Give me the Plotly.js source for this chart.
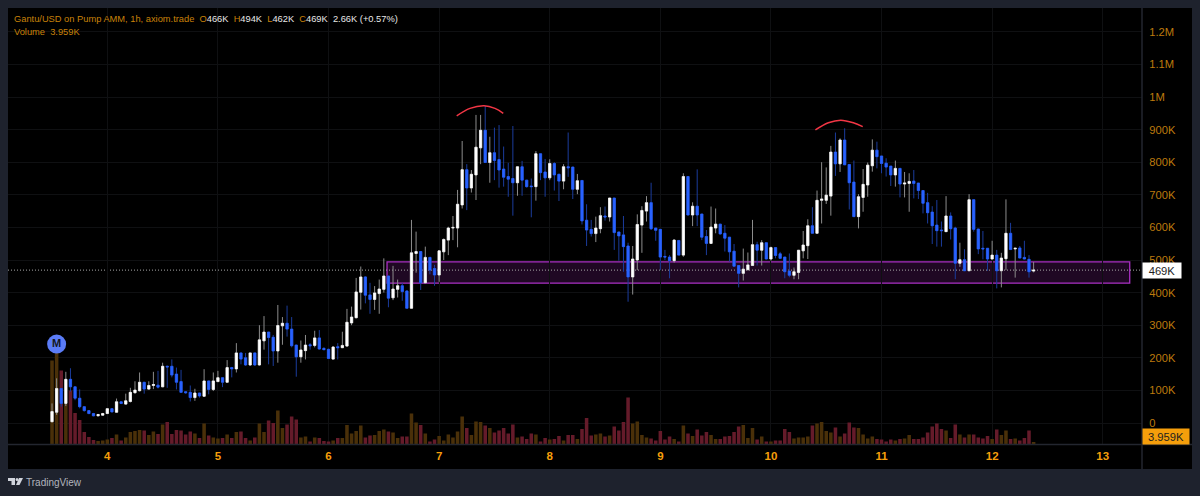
<!DOCTYPE html>
<html>
<head>
<meta charset="utf-8">
<script src="https://cdn.plot.ly/plotly-3.0.1.min.js"></script>
<style>html,body{margin:0;padding:0;background:#1e222d;overflow:hidden}#c{width:1200px;height:496px}</style>
</head>
<body>
<div id="c"></div>
<script>
const firstDay = 3.5, hoursPerDay = 24;
const open = [4,33,106,60,134,111,76,50,38,29,
22,24,29,44,33,65,58,66,93,99,
125,104,115,116,111,174,174,150,127,96,
94,78,92,82,129,103,127,139,125,170,
166,215,200,178,215,178,252,279,263,221,
298,306,288,239,203,222,240,238,261,229,
226,196,234,231,236,307,323,401,448,393,
379,397,410,451,384,410,421,405,352,520,
526,430,508,474,454,525,561,598,598,669,
777,721,761,844,898,799,829,808,779,756,
750,737,786,745,727,725,826,770,752,796,
763,742,786,785,717,744,622,594,581,596,
635,632,690,586,577,543,448,500,607,650,
676,598,594,511,509,498,560,515,756,638,
665,641,572,551,598,610,582,570,527,483,
459,470,483,547,530,553,503,538,519,509,
466,453,462,528,544,605,582,683,683,696,
831,795,868,793,739,633,692,730,789,837,
819,797,788,761,781,733,735,742,736,713,
676,647,607,592,587,635,598,490,501,467,
685,595,536,536,503,515,467,504,582,534,
537,508,502,466];
const close = [35,106,60,134,111,76,50,38,29,22,
26,29,44,34,65,60,68,94,101,125,
104,115,118,110,174,172,147,125,94,93,
78,92,83,129,103,129,139,125,170,166,
215,196,178,215,178,255,279,262,221,299,
306,288,237,203,224,239,237,261,227,225,
198,233,231,238,309,325,402,448,392,379,
399,411,451,383,411,421,403,352,522,526,
430,508,469,454,528,563,598,600,671,777,
721,763,846,898,799,829,805,776,754,748,
737,786,745,725,725,826,768,752,796,761,
742,786,783,717,743,620,592,581,598,636,
632,690,584,574,541,448,503,609,652,676,
596,591,509,509,498,561,515,756,638,665,
638,570,551,601,610,580,567,525,481,459,
472,485,547,530,553,503,538,514,505,464,
453,464,530,546,605,582,683,687,699,831,
795,868,792,737,633,694,732,791,837,817,
796,785,761,781,733,736,741,735,713,674,
645,605,590,590,635,596,490,501,467,685,
594,534,534,503,515,467,506,582,532,536,
506,503,464,469];
const high = [60,137,106,157,168,111,103,52,40,31,
28,31,46,46,75,66,90,108,128,155,
125,128,157,160,185,176,195,170,163,97,
115,105,92,165,129,155,160,139,193,172,
245,215,215,215,215,300,328,279,270,362,
325,360,325,240,253,270,245,283,285,232,
228,236,245,280,350,357,445,480,450,430,
420,440,505,451,482,440,430,407,623,587,
526,541,508,485,530,566,602,635,715,865,
794,776,945,945,973,878,906,914,848,798,
911,786,804,745,750,834,826,810,809,800,
763,794,891,786,764,745,671,623,633,662,
664,690,690,586,635,553,543,640,665,696,
737,598,594,531,515,564,560,766,756,677,
778,641,592,664,658,610,607,570,549,483,
535,523,623,556,561,553,541,538,525,509,
520,477,530,589,625,662,713,800,784,850,
891,873,904,793,805,702,779,799,870,863,
819,812,788,805,781,770,766,776,736,713,
706,665,684,618,696,646,602,553,533,702,
685,595,589,536,559,531,522,686,614,536,
543,559,515,494];
const low = [2,25,50,52,96,70,45,35,27,21,
21,23,28,33,32,58,56,63,90,97,
90,102,104,106,110,108,140,103,92,90,
66,68,78,80,88,98,126,110,124,140,
155,180,175,175,175,176,225,180,175,185,
240,265,232,142,185,195,225,232,225,223,
198,195,195,230,234,300,321,348,367,335,
347,335,400,355,377,385,375,352,352,461,
408,430,456,421,433,500,515,561,539,658,
653,707,684,794,799,737,745,722,725,694,
636,697,697,722,631,682,745,694,745,713,
681,717,755,687,702,609,543,572,555,582,
621,618,531,498,464,372,394,469,522,618,
592,559,469,500,444,492,515,510,638,604,
604,561,515,551,582,578,526,495,480,416,
437,470,483,483,483,503,498,505,505,444,
447,441,441,505,503,582,580,612,672,636,
758,770,792,655,633,597,648,694,771,781,
766,756,727,725,692,692,648,689,687,643,
612,549,541,541,587,563,441,479,467,467,
587,518,502,467,502,413,416,469,532,446,
506,503,446,462];
const volume = [167,183,147,80,107,62,48,24,14,8,
6,7,9,12,19,7,13,24,26,28,
27,18,25,20,39,44,20,28,27,19,
25,21,12,41,17,13,11,12,19,12,
24,25,12,7,13,41,24,47,42,67,
32,39,55,49,13,15,5,13,12,6,
5,7,12,12,38,21,26,37,13,17,
18,26,29,25,23,12,15,15,61,43,
38,21,5,9,16,7,19,13,25,55,
32,18,45,44,37,32,23,27,32,21,
39,13,15,10,21,19,5,12,9,10,
16,7,18,18,10,30,52,17,19,21,
15,17,35,27,44,93,41,45,18,13,
11,7,26,9,15,10,5,37,21,16,
29,17,24,18,10,10,15,16,24,35,
38,12,32,9,15,5,5,7,7,30,
24,11,13,13,15,37,41,44,26,23,
33,15,21,43,33,32,19,11,15,10,
9,5,9,7,10,11,18,10,10,13,
23,35,41,30,27,12,39,19,13,19,
19,13,11,16,10,29,18,27,10,11,
7,12,27,4];

const dayTicks = [4,5,6,7,8,9,10,11,12,13];
const priceTicks = [0,100,200,300,400,500,600,700,800,900,1000,1100,1200];
const priceLabels = ['0','100K','200K','300K','400K','500K','600K','700K','800K','900K','1M','1.1M','1.2M'];
const arc1Days = [7.159,7.279,7.406,7.505,7.58];
const arc1Price = [942,965,973,965,950];
const arc2Days = [10.402,10.519,10.631,10.745,10.83];
const arc2Price = [899,921,929,921,909];
const zoneDays = [6.529,13.244];
const zonePrice = [429,494];
const lastPrice = 469;
const markerDay = [3.5417];
const markerPrice = [242];

const W = 1200, H = 496, L = 8, R = 1142, T = 8, B = 444;
const px = v => (v - L) / (R - L);
const py = v => (B - v) / (B - T);
const days = open.map((_, i) => firstDay + i / hoursPerDay);
const bodyHi = open.map((o, i) => Math.max(o, close[i]));
const bodyLo = open.map((o, i) => Math.min(o, close[i]));
const volColors = open.map((o, i) => close[i] >= o ? '#4a3009' : '#651b2a');
const xMin = 3.102, xMax = 13.355;
const priceMin = -64.4, priceMax = 1273;
const FF = '"Liberation Sans", Arial, sans-serif';

const data = [
  {type:'bar', x:days, y:volume, yaxis:'y', xaxis:'x', width:0.032, marker:{color:volColors, line:{width:0}}, hoverinfo:'skip', showlegend:false},
  {type:'candlestick', x:days, open:open, high:high, low:low, close:close, yaxis:'y2', xaxis:'x', whiskerwidth:0,
   increasing:{line:{color:'#8c8c8c', width:1}, fillcolor:'#8c8c8c'},
   decreasing:{line:{color:'#1b3c9c', width:1}, fillcolor:'#1b3c9c'}, hoverinfo:'skip', showlegend:false},
  {type:'candlestick', x:days, open:open, close:close, high:bodyHi, low:bodyLo, yaxis:'y2', xaxis:'x', whiskerwidth:0,
   increasing:{line:{color:'#ffffff', width:0.5}, fillcolor:'#ffffff'},
   decreasing:{line:{color:'#2962ff', width:0.5}, fillcolor:'#2962ff'}, hoverinfo:'skip', showlegend:false},
  {type:'scatter', mode:'lines', x:arc1Days, y:arc1Price, yaxis:'y2', xaxis:'x', line:{color:'#f23645', width:1.5, shape:'spline'}, hoverinfo:'skip', showlegend:false},
  {type:'scatter', mode:'lines', x:arc2Days, y:arc2Price, yaxis:'y2', xaxis:'x', line:{color:'#f23645', width:1.5, shape:'spline'}, hoverinfo:'skip', showlegend:false},
  {type:'scatter', mode:'markers+text', x:markerDay, y:markerPrice, yaxis:'y2', xaxis:'x', text:['M'], textposition:'middle center',
   textfont:{family:FF, size:11, color:'#131722', weight:700},
   marker:{size:19, color:'#5b7cf7', line:{width:0}}, hoverinfo:'skip', showlegend:false}
];

const O = '#c98209', Wt = '#e8e8e8';
const seg = (c, t) => `<span style="color:${c}">${t}</span>`;
const header = seg(O,'Gantu/USD on Pump AMM, 1h, axiom.trade')+'  '+seg(O,'O')+seg(Wt,'466K')+'  '+seg(O,'H')+seg(Wt,'494K')+'  '+seg(O,'L')+seg(Wt,'462K')+'  '+seg(O,'C')+seg(Wt,'469K')+'  '+seg(Wt,'2.66K (+0.57%)');

const layout = {
  width:W, height:H, margin:{l:L, r:W-R, t:T, b:H-B, pad:0},
  paper_bgcolor:'#1e222d', plot_bgcolor:'#000000', showlegend:false, barmode:'overlay',
  font:{family:FF},
  xaxis:{range:[xMin,xMax], tickmode:'array', tickvals:dayTicks, ticktext:dayTicks.map(String), showgrid:true, gridcolor:'#0f1012', gridwidth:1,
    zeroline:false, showline:false, ticks:'outside', ticklen:1, tickcolor:'rgba(0,0,0,0)', rangeslider:{visible:false},
    tickfont:{family:FF, size:11.5, color:'#f59e0b', weight:700}, fixedrange:true},
  yaxis:{range:[0,872], visible:false, fixedrange:true},
  yaxis2:{overlaying:'y', side:'right', anchor:'x', range:[priceMin,priceMax], tickmode:'array', tickvals:priceTicks, ticktext:priceLabels,
    showgrid:true, gridcolor:'#0f1012', gridwidth:1, zeroline:false, showline:false, ticks:'outside', ticklen:4, tickcolor:'rgba(0,0,0,0)',
    tickfont:{family:FF, size:11.2, color:'#bd7a0d'}, fixedrange:true},
  shapes:[
    {type:'rect', xref:'paper', yref:'paper', x0:px(L), x1:px(1192), y0:py(469), y1:py(T), fillcolor:'#000000', line:{width:0}, layer:'below'},
    {type:'line', xref:'paper', yref:'paper', x0:px(L), x1:px(1192), y0:py(444.5), y1:py(444.5), line:{color:'#23262f', width:1.5}, layer:'above'},
    {type:'line', xref:'paper', yref:'paper', x0:px(1142), x1:px(1142), y0:py(469), y1:py(T), line:{color:'#23262f', width:1.5}, layer:'above'},
    {type:'rect', xref:'x', yref:'y2', x0:zoneDays[0], x1:zoneDays[1], y0:zonePrice[0], y1:zonePrice[1], fillcolor:'rgba(156,39,176,0.2)', line:{color:'#aa30c4', width:1.3}, layer:'below'},
    {type:'line', xref:'x', yref:'y2', x0:xMin, x1:xMax, y0:lastPrice, y1:lastPrice, line:{color:'#a8a8a8', width:1, dash:'1px,2px'}, layer:'below'},
    {type:'path', xref:'paper', yref:'paper', layer:'above', fillcolor:'#d1d4dc', line:{width:0},
      path:`M${px(8)} ${py(478)} L${px(15)} ${py(478)} L${px(15)} ${py(485)} L${px(11.5)} ${py(485)} L${px(11.5)} ${py(481)} L${px(8)} ${py(481)} Z`},
    {type:'path', xref:'paper', yref:'paper', layer:'above', fillcolor:'#d1d4dc', line:{width:0},
      path:`M${px(19)} ${py(478)} L${px(23)} ${py(478)} L${px(19.5)} ${py(485)} L${px(16)} ${py(485)} Z`},
    {type:'circle', xref:'paper', yref:'paper', layer:'above', fillcolor:'#d1d4dc', line:{width:0}, x0:px(15.6), x1:px(18.4), y0:py(481), y1:py(478)}
  ],
  annotations:[
    {xref:'paper', yref:'paper', x:px(12), y:py(19), xanchor:'left', yanchor:'middle', showarrow:false, text:header, font:{family:FF, size:9.3, color:O}},
    {xref:'paper', yref:'paper', x:px(12), y:py(32), xanchor:'left', yanchor:'middle', showarrow:false, text:'Volume  3.959K', font:{family:FF, size:9.3, color:O}},
    {xref:'paper', yref:'y2', x:px(1142), y:lastPrice, xanchor:'left', yanchor:'middle', showarrow:false, text:'469K', width:38, height:15, align:'center', bgcolor:'#ffffff', borderpad:0, font:{family:FF, size:11.2, color:'#1e1e1e'}},
    {xref:'paper', yref:'paper', x:px(1142), y:py(436.5), xanchor:'left', yanchor:'middle', showarrow:false, text:'3.959K', width:46, height:15, align:'center', bgcolor:'#f59e0b', borderpad:0, font:{family:FF, size:11.2, color:'#1e1e1e'}},
    {xref:'paper', yref:'paper', x:px(24), y:py(482.5), xanchor:'left', yanchor:'middle', showarrow:false, text:'TradingView', font:{family:FF, size:10, color:'#b2b5be'}}
  ]
};
Plotly.newPlot('c', data, layout, {displayModeBar:false, staticPlot:true});
</script>
</body>
</html>
